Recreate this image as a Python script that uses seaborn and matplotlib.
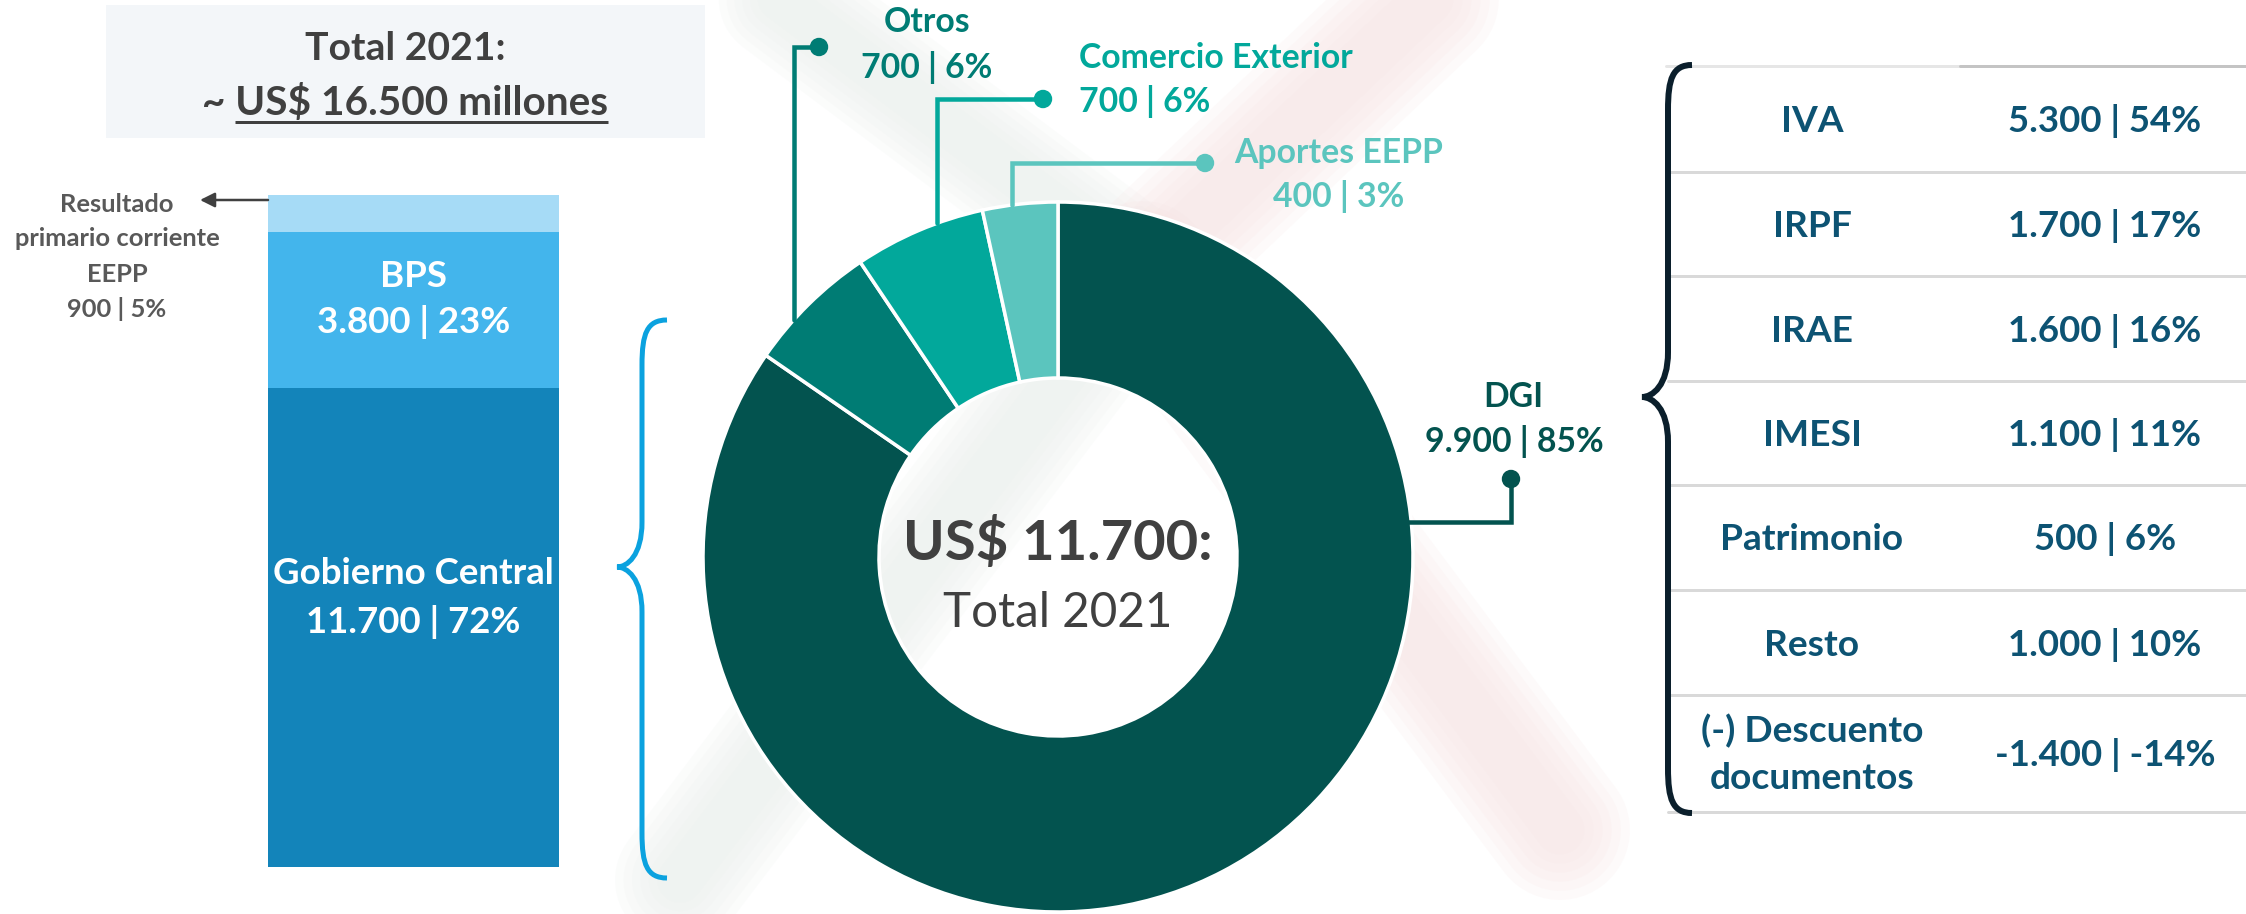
import numpy as np
import pandas as pd
import matplotlib
matplotlib.use("Agg")
import matplotlib.pyplot as plt
import seaborn as sns
from matplotlib.path import Path
from matplotlib.patches import PathPatch, Rectangle, Circle

# ---------------- data ----------------
total_2021 = 16500
bar_layers = ["Gobierno Central", "BPS", "Resultado primario corriente EEPP"]
bar_values = [11700, 3800, 900]
bar_pcts = [72, 23, 5]

donut_labels = ["DGI", "Otros", "Comercio Exterior", "Aportes EEPP"]
donut_values = [9900, 700, 700, 400]
donut_pcts = [85, 6, 6, 3]
central_total = 11700

dgi_items = ["IVA", "IRPF", "IRAE", "IMESI", "Patrimonio", "Resto", "(-) Descuento\ndocumentos"]
dgi_values = [5300, 1700, 1600, 1100, 500, 1000, -1400]
dgi_pcts = [54, 17, 16, 11, 6, 10, -14]


def fmt(v):
    return f"{v:,}".replace(",", ".")


def vlabel(v, p):
    return f"{fmt(v)} | {p}%"


# ---------------- style ----------------
sns.set_theme(style="white")
plt.rcParams["font.family"] = ["Lato", "DejaVu Sans"]

W, H = 2246, 914
fig = plt.figure(figsize=(W / 100, H / 100), dpi=100)
fig.patch.set_facecolor("white")

ax = fig.add_axes([0, 0, 1, 1], zorder=2)
ax.patch.set_alpha(0)
ax.set_xlim(0, W)
ax.set_ylim(H, 0)
ax.axis("off")
renderer = fig.canvas.get_renderer()

PT = 0.72  # px -> pt


def fit_size(s, width, weight="bold", base=20.0):
    t = ax.text(0, 0, s, fontsize=base, fontweight=weight)
    w = t.get_window_extent(renderer).width
    t.remove()
    return base * width / w


def txt(x, y, s, size, color, weight="bold", ha="center"):
    return ax.text(x, y, s, fontsize=size, color=color, fontweight=weight,
                   ha=ha, va="baseline", zorder=10)


# ---------------- watermark (very faint, soft edges) ----------------
cross = (1142, 271)
for end, col, lw in [((740, -30), "#E9EFEC", 120), ((680, 880), "#E9EFEC", 130),
                     ((1470, -40), "#F7E3E3", 140), ((1560, 830), "#F7E3E3", 140)]:
    for k in range(6):
        ax.plot([cross[0], end[0]], [cross[1], end[1]], color=col, alpha=0.16,
                lw=lw * (1 - 0.13 * k) * PT, solid_capstyle="round", zorder=0)

# ---------------- title box ----------------
ax.add_patch(Rectangle((106, 5), 599, 133, facecolor="#F3F6F9", edgecolor="none", zorder=1))
dark = "#404040"
s_title = fit_size("Total 2021:", 200)
txt(405, 60, "Total 2021:", s_title, dark)
line2 = f"~ US$ {fmt(total_2021)} millones"
s_l2 = fit_size(line2, 406)
t2 = txt(405, 115, line2, s_l2, dark)
bb = t2.get_window_extent(renderer)
tu = ax.text(0, 0, line2[2:], fontsize=s_l2, fontweight="bold")
wu = tu.get_window_extent(renderer).width
tu.remove()
ax.plot([bb.x1 - wu, bb.x1], [122, 122], color=dark, lw=3 * PT, solid_capstyle="butt", zorder=10)

# ---------------- stacked bar (seaborn) ----------------
bx0, bx1, by0, by1 = 268, 559, 195, 867
axb = fig.add_axes([bx0 / W, 1 - by1 / H, (bx1 - bx0) / W, (by1 - by0) / H], zorder=1)
bar_colors = ["#1384BA", "#43B5EC", "#A6DBF6"]
cum = np.cumsum(bar_values)
df_bar = pd.DataFrame({"grupo": ["Total"] * 3, "layer": bar_layers, "cum": cum})
for i in range(len(bar_values) - 1, -1, -1):
    sns.barplot(data=df_bar.iloc[[i]], x="grupo", y="cum", color=bar_colors[i],
                saturation=1, width=1.0, ax=axb, linewidth=0)
axb.set_xlim(-0.5, 0.5)
axb.set_ylim(0, cum[-1])
axb.axis("off")

# bar labels
s_bar = fit_size(bar_layers[0], 281)
cx_bar = (bx0 + bx1) / 2
txt(cx_bar, 584, bar_layers[0], s_bar, "white")
txt(cx_bar, 633, vlabel(bar_values[0], bar_pcts[0]), s_bar, "white")
txt(cx_bar, 287, bar_layers[1], s_bar, "white")
txt(cx_bar, 333, vlabel(bar_values[1], bar_pcts[1]), s_bar, "white")

# EEPP side label
grey = "#595959"
eepp_lines = ["Resultado", "primario corriente", "EEPP", vlabel(bar_values[2], bar_pcts[2])]
s_e = fit_size(eepp_lines[1], 205)
for ln, yb in zip(eepp_lines, [212, 246, 282, 317]):
    txt(117, yb, ln, s_e, grey)
ax.annotate("", xy=(200, 200), xytext=(bx0, 200),
            arrowprops=dict(arrowstyle="-|>", color="#404040", lw=2.5 * PT,
                            mutation_scale=22, shrinkA=0, shrinkB=0), zorder=10)


# ---------------- braces ----------------
def brace(x_end, x_line, x_tip, y_top, y_tip, y_bot, color, lw, r=45):
    d = x_end - x_line
    t = x_line - x_tip
    verts = [(x_end, y_top), (x_line + d * 0.2, y_top), (x_line, y_top + r * 0.3), (x_line, y_top + r),
             (x_line, y_tip - r), (x_line, y_tip - r * 0.25), (x_tip + t * 0.4, y_tip), (x_tip, y_tip),
             (x_tip + t * 0.4, y_tip), (x_line, y_tip + r * 0.25), (x_line, y_tip + r),
             (x_line, y_bot - r), (x_line, y_bot - r * 0.3), (x_line + d * 0.2, y_bot), (x_end, y_bot)]
    codes = [Path.MOVETO, Path.CURVE4, Path.CURVE4, Path.CURVE4,
             Path.LINETO, Path.CURVE4, Path.CURVE4, Path.CURVE4,
             Path.CURVE4, Path.CURVE4, Path.CURVE4,
             Path.LINETO, Path.CURVE4, Path.CURVE4, Path.CURVE4]
    ax.add_patch(PathPatch(Path(verts, codes), facecolor="none", edgecolor=color,
                           lw=lw * PT, capstyle="butt", zorder=5))


brace(667, 642, 617, 320, 567, 878, "#0BA2DF", 5)
brace(1692, 1668, 1642, 65, 397, 813, "#0B1F2C", 6)

# ---------------- donut ----------------
cx, cy, R, RW = 1058, 557, 355, 176
donut_colors = ["#03534F", "#007C74", "#02A89B", "#5BC5BE"]
ax.pie(donut_values, colors=donut_colors, startangle=-90, counterclock=True,
       center=(cx, cy), radius=R,
       wedgeprops=dict(width=RW, edgecolor="white", linewidth=3.5 * PT))
ax.set_aspect("auto")
ax.set_xlim(0, W)
ax.set_ylim(H, 0)
ax.axis("off")

s_c1 = fit_size(f"US$ {fmt(central_total)}:", 311)
txt(cx, 560, f"US$ {fmt(central_total)}:", s_c1, dark)
s_c2 = fit_size("Total 2021", 229, weight="normal")
txt(cx, 627, "Total 2021", s_c2, dark, weight="normal")

# labels + connectors
s_d = fit_size(donut_labels[2], 274)
lw_c = 4.5 * PT


def vconn(x_line, x_dot, y_dot, color):
    y_edge = cy - np.sqrt(R ** 2 - (x_line - cx) ** 2)
    ax.plot([x_dot, x_line, x_line], [y_dot, y_dot, y_edge], color=color, lw=lw_c,
            solid_joinstyle="miter", zorder=6)
    ax.add_patch(Circle((x_dot, y_dot), 8.5, color=color, zorder=7))


# Otros
vconn(794, 819, 47, donut_colors[1])
txt(927, 32, donut_labels[1], s_d, donut_colors[1])
txt(927, 78, vlabel(donut_values[1], donut_pcts[1]), s_d, donut_colors[1])
# Comercio Exterior
vconn(937, 1043, 99, donut_colors[2])
txt(1079, 68, donut_labels[2], s_d, donut_colors[2], ha="left")
txt(1079, 112, vlabel(donut_values[2], donut_pcts[2]), s_d, donut_colors[2], ha="left")
# Aportes EEPP
vconn(1012, 1205, 163, donut_colors[3])
txt(1339, 163, donut_labels[3], s_d, donut_colors[3])
txt(1339, 207, vlabel(donut_values[3], donut_pcts[3]), s_d, donut_colors[3])
# DGI
y_h = 522
x_edge = cx + np.sqrt(R ** 2 - (y_h - cy) ** 2)
ax.plot([x_edge - 5, 1511, 1511], [y_h, y_h, 479], color=donut_colors[0], lw=lw_c,
        solid_joinstyle="miter", zorder=6)
ax.add_patch(Circle((1511, 479), 8.5, color=donut_colors[0], zorder=7))
txt(1513, 407, donut_labels[0], s_d, donut_colors[0])
txt(1514, 452, vlabel(donut_values[0], donut_pcts[0]), s_d, donut_colors[0])

# ---------------- DGI table ----------------
row_edges = [66, 172, 276, 381, 485, 590, 695, 812]
ax.plot([1666, 1960], [row_edges[0]] * 2, color="#E6E6E6", lw=3 * PT, zorder=3)
ax.plot([1960, W], [row_edges[0]] * 2, color="#C4C4C4", lw=3 * PT, zorder=3)
for ye in row_edges[1:]:
    ax.plot([1668, W], [ye, ye], color="#D9D9D9", lw=3 * PT, zorder=3)

tcol = "#0D5373"
s_tl = fit_size("Patrimonio", 183)
s_tv = fit_size(vlabel(dgi_values[6], dgi_pcts[6]), 222)
for i, (item, v, p) in enumerate(zip(dgi_items, dgi_values, dgi_pcts)):
    yc = (row_edges[i] + row_edges[i + 1]) / 2
    lines = item.split("\n")
    if len(lines) == 1:
        txt(1812, yc + 13, lines[0], s_tl, tcol)
    else:
        txt(1812, yc - 11.5, lines[0], s_tl, tcol)
        txt(1812, yc + 35.5, lines[1], s_tl, tcol)
    txt(2105, yc + 13, vlabel(v, p), s_tv, tcol)

fig.savefig("out.png", dpi=100, facecolor="white")
